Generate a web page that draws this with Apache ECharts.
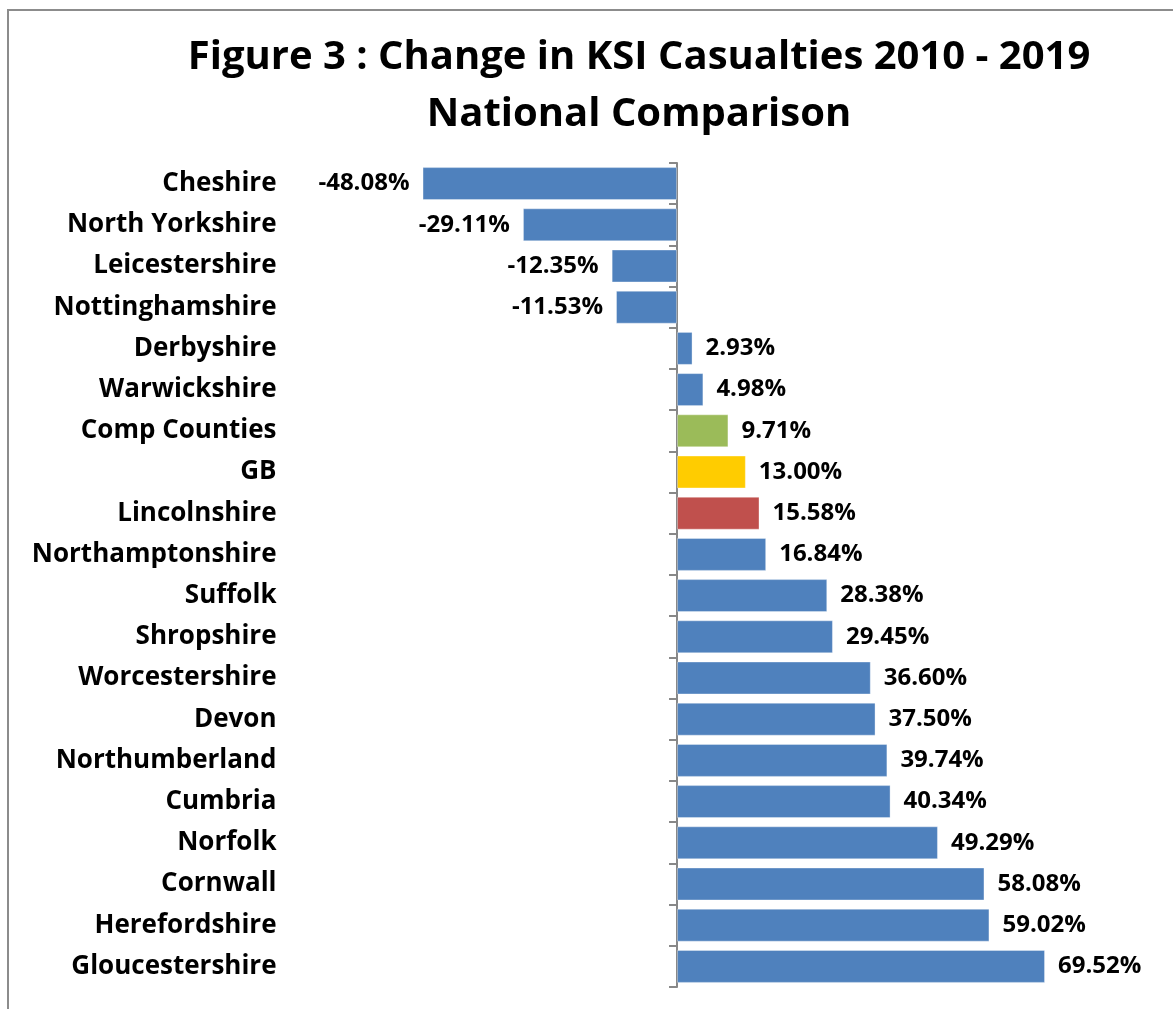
<!DOCTYPE html>
<html>
<head>
<meta charset="utf-8">
<title>Change in KSI Casualties 2010 - 2019</title>
<script src="https://cdn.jsdelivr.net/npm/echarts@6/dist/echarts.min.js"></script>
<style>
  html, body { margin: 0; padding: 0; background: #ffffff; }
  #chart { width: 1173px; height: 1009px; }
</style>
</head>
<body>
<div id="chart"></div>
<script>
// Areas, listed top to bottom
const categories = [
  'Cheshire', 'North Yorkshire', 'Leicestershire', 'Nottinghamshire',
  'Derbyshire', 'Warwickshire', 'Comp Counties', 'GB', 'Lincolnshire',
  'Northamptonshire', 'Suffolk', 'Shropshire', 'Worcestershire', 'Devon',
  'Northumberland', 'Cumbria', 'Norfolk', 'Cornwall', 'Herefordshire',
  'Gloucestershire'
];

// Percentage change in killed or seriously injured casualties
const changePct = [
  -48.08, -29.11, -12.35, -11.53,
  2.93, 4.98, 9.71, 13.00, 15.58,
  16.84, 28.38, 29.45, 36.60, 37.50,
  39.74, 40.34, 49.29, 58.08, 59.02,
  69.52
];

// Highlighted rows
const highlight = {
  'Comp Counties': '#9BBB59',
  'GB': '#FFCC00',
  'Lincolnshire': '#C0504D'
};

const FONT = '"Open Sans", Lato, sans-serif';
const BAR_BLUE = '#4F81BD';

const barData = changePct.map((v, i) => {
  const name = categories[i];
  const fill = highlight[name] || BAR_BLUE;
  return {
    value: v,
    itemStyle: { color: fill },
    label: { position: v < 0 ? 'left' : 'right' }
  };
});

const chart = echarts.init(document.getElementById('chart'));

chart.setOption({
  animation: false,
  backgroundColor: '#ffffff',
  title: {
    text: 'Figure 3 : Change in KSI Casualties 2010 - 2019\nNational Comparison',
    left: 634,
    textAlign: 'center',
    top: 24,
    textStyle: {
      fontFamily: FONT,
      fontWeight: 'bold',
      fontSize: 40,
      lineHeight: 57,
      color: '#000000'
    }
  },
  graphic: [{
    type: 'rect',
    shape: { x: 8, y: 10, width: 1200, height: 1100 },
    style: { fill: 'none', stroke: '#8c8c8c', lineWidth: 2 },
    silent: true
  }],
  grid: {
    left: 306.5,
    right: 72.5,
    top: 163,
    height: 824,
    containLabel: false
  },
  xAxis: {
    type: 'value',
    min: -70,
    max: 80,
    show: false,
    splitLine: { show: false }
  },
  yAxis: [
    {
      type: 'category',
      data: categories,
      inverse: true,
      position: 'left',
      axisLine: { show: false, onZero: false },
      axisTick: { show: false },
      axisLabel: {
        margin: 30,
        padding: [5, 0, 0, 0],
        fontFamily: FONT,
        fontWeight: 'bold',
        fontSize: 26,
        color: '#000000'
      }
    },
    {
      type: 'category',
      data: categories,
      inverse: true,
      position: 'left',
      axisLine: { show: true, onZero: true, lineStyle: { color: '#888888', width: 2 } },
      axisTick: { show: true, length: 8, lineStyle: { color: '#888888', width: 2 } },
      axisLabel: { show: false }
    }
  ],
  series: [{
    type: 'bar',
    yAxisIndex: 0,
    data: barData,
    barCategoryGap: '20%',
    itemStyle: { borderColor: 'rgba(255,255,255,0.35)', borderWidth: 1 },
    label: {
      show: true,
      distance: 13,
      padding: [5, 0, 0, 0],
      fontFamily: FONT,
      fontWeight: 'bold',
      fontSize: 24,
      color: '#000000',
      formatter: p => p.value.toFixed(2) + '%'
    }
  }]
});
</script>
</body>
</html>
